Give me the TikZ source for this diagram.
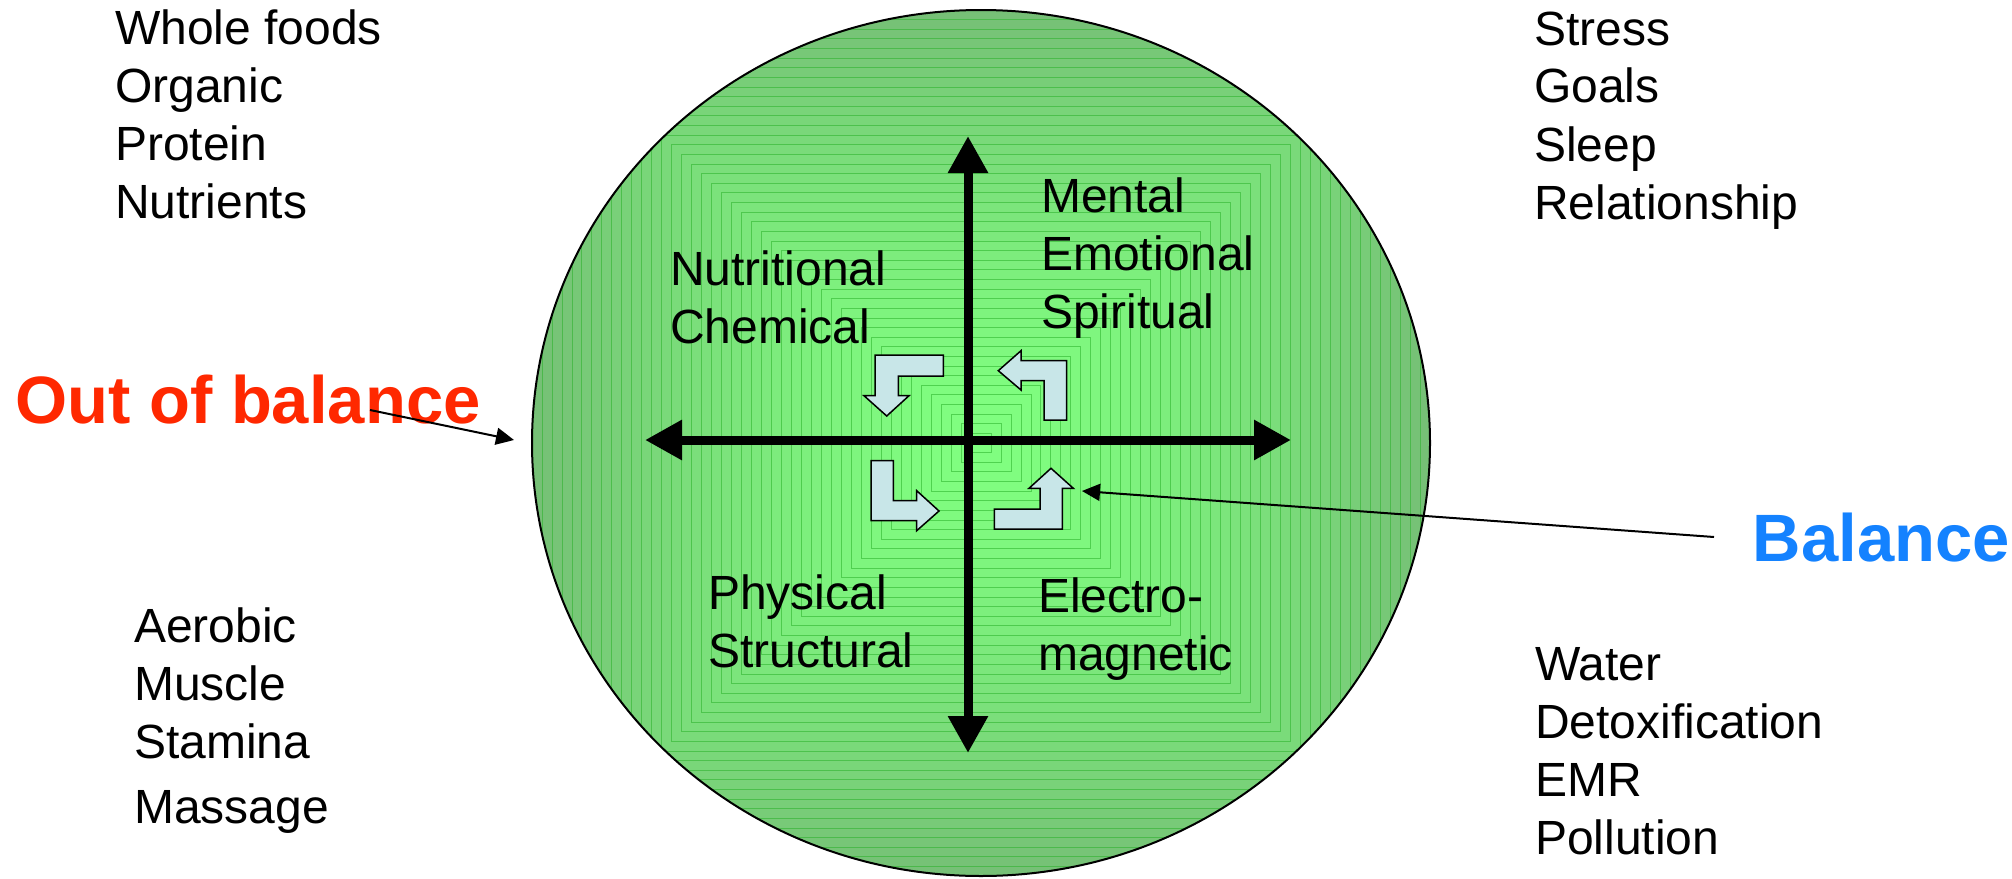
\documentclass[tikz,border=0pt]{standalone}
\usepackage{fontspec}
\setmainfont{Liberation Sans}
\usetikzlibrary{arrows.meta}
\definecolor{darkg}{RGB}{118,192,118}
\definecolor{brightg}{RGB}{128,255,128}
\definecolor{linec}{RGB}{40,175,40}
\definecolor{bentfill}{RGB}{200,230,232}
\definecolor{oobred}{RGB}{255,40,0}
\definecolor{balblue}{RGB}{20,130,255}
\newcommand\mylines[1]{\begin{tabular}[t]{@{}l@{}}#1\end{tabular}}
\tikzset{
  lbl/.style={font=\fontsize{48}{58}\selectfont, inner sep=0pt, anchor=base west},
  biglbl/.style={font=\fontsize{67}{80}\selectfont\bfseries, inner sep=0pt, anchor=base west},
  axis/.style={line width=9pt, {Triangle[length=37pt,width=38pt]}-{Triangle[length=37pt,width=38pt]}},
  pointer/.style={line width=2pt, -{Triangle[length=18pt,width=17pt]}},
  bent/.style={fill=bentfill, draw=black, line width=1.5pt, line join=miter}
}
\begin{document}
\begin{tikzpicture}[x=1pt,y=-1pt]
\fill[white] (0,0) rectangle (2012,878);
\useasboundingbox (0,0) rectangle (2012,878);

% shaded disc with rectangular gradient
\begin{scope}
  \clip (981,443) ellipse [x radius=449, y radius=433];
  \foreach \i in {0,...,44} {
    \pgfmathsetmacro\t{1-\i/45}
    \pgfmathsetmacro\p{100*(1-\t^1.5)}
    \colorlet{bandc}{brightg!\p!darkg}
    \path[fill=bandc, draw=linec!55!bandc, line width=0.8pt]
      (981-449*\t, 443-433*\t) rectangle (981+449*\t, 443+433*\t);
  }
\end{scope}
\draw[line width=2pt] (981,443) ellipse [x radius=449, y radius=433];

% axes
\coordinate (top) at (968,136);
\coordinate (bot) at (968,753);
\coordinate (lft) at (645,440);
\coordinate (rgt) at (1291,440);
\draw[axis] (top) -- (bot);
\draw[axis] (lft) -- (rgt);

% bent arrows
\path[bent] (875,355) -- (943.3,355) -- (943.3,376) -- (898.3,376) -- (898.3,395.7)
  -- (909,395.7) -- (886.7,416) -- (864,395.7) -- (875,395.7) -- cycle;
\path[bent] (1066.7,360.7) -- (1066.7,420) -- (1044,420) -- (1044,380.7) -- (1021,380.7)
  -- (1021,390) -- (998.3,370.7) -- (1021,350.7) -- (1021,360.7) -- cycle;
\path[bent] (871,460.7) -- (893.3,460.7) -- (893.3,500.7) -- (916.7,500.7) -- (916.7,490.7)
  -- (939,511) -- (916.7,530.7) -- (916.7,520.7) -- (871,520.7) -- cycle;
\path[bent] (994.3,509) -- (1040,509) -- (1040,488.3) -- (1029,488.3) -- (1051,468.3)
  -- (1073.3,488.3) -- (1062.3,488.3) -- (1062.3,529) -- (994.3,529) -- cycle;

% quadrant labels
\node[lbl] (nut) at (670,285) {\mylines{Nutritional\\Chemical}};
\node[lbl] (men) at (1041,212) {\mylines{Mental\\Emotional\\Spiritual}};
\node[lbl] (phy) at (708,609) {\mylines{Physical\\Structural}};
\node[lbl] (ele) at (1038,612) {\mylines{Electro-\\magnetic}};

% corner lists
\node[lbl] (tl) at (115,44) {\mylines{Whole foods\\Organic\\Protein\\Nutrients}};
\node[lbl] (tr) at (1534,45) {\mylines{Stress\\Goals\\Sleep\\Relationship}};
\node[lbl] (bl) at (134,642) {\mylines{Aerobic\\Muscle\\Stamina\\[7pt]Massage}};
\node[lbl] (br) at (1535,680) {\mylines{Water\\Detoxification\\EMR\\Pollution}};

% balance labels
\node[biglbl, text=oobred] (oob) at (15,423) {Out of balance};
\node[biglbl, text=balblue, anchor=base east] (bal) at (2010,561) {Balance};
\coordinate (oobs) at (370,410);
\coordinate (oobt) at (514,440);
\coordinate (bals) at (1714,537);
\coordinate (balt) at (1082,491);
\draw[pointer] (oobs) -- (oobt);
\draw[pointer] (bals) -- (balt);
\end{tikzpicture}
\end{document}
